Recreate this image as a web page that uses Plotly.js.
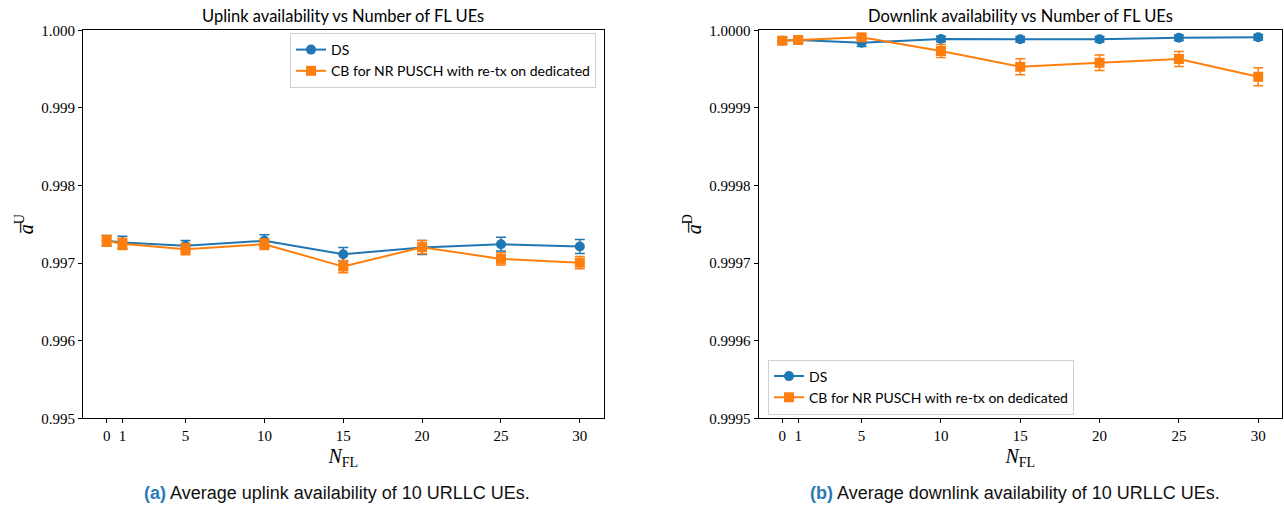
<!DOCTYPE html>
<html>
<head>
<meta charset="utf-8">
<script src="https://cdn.plot.ly/plotly-3.0.1.min.js"></script>
<style>
html,body{margin:0;padding:0;background:#fff;}
#chart{width:1284px;height:507px;}
</style>
</head>
<body>
<div id="chart"></div>
<script>
// ---- data ----
const nFL = [0, 1, 5, 10, 15, 20, 25, 30];
const xTickVals = [0, 1, 5, 10, 15, 20, 25, 30];
const xTickText = ["0", "1", "5", "10", "15", "20", "25", "30"];

const ulDS    = [0.997287, 0.997265, 0.997222, 0.997287, 0.997115, 0.997200, 0.997244, 0.997213];
const ulDSerr = [0.000070, 0.000080, 0.000070, 0.000078, 0.000085, 0.000090, 0.000088, 0.000090];
const ulCB    = [0.997287, 0.997248, 0.997180, 0.997244, 0.996955, 0.997205, 0.997054, 0.997006];
const ulCBerr = [0.000070, 0.000072, 0.000072, 0.000068, 0.000080, 0.000085, 0.000078, 0.000080];

const dlDS    = [0.9999866, 0.9999875, 0.9999840, 0.9999888, 0.9999884, 0.9999884, 0.9999905, 0.9999910];
const dlDSerr = [0.0000040, 0.0000040, 0.0000050, 0.0000035, 0.0000035, 0.0000035, 0.0000035, 0.0000035];
const dlCB    = [0.9999866, 0.9999875, 0.9999910, 0.9999733, 0.9999530, 0.9999582, 0.9999630, 0.9999401];
const dlCBerr = [0.0000040, 0.0000040, 0.0000032, 0.0000084, 0.0000103, 0.0000100, 0.0000097, 0.0000117];

const ulYTicks = [0.995, 0.996, 0.997, 0.998, 0.999, 1.000];
const dlYTicks = [0.9995, 0.9996, 0.9997, 0.9998, 0.9999, 1.0000];

const nameDS = "DS";
const nameCB = "CB for NR PUSCH with re-tx on dedicated";
const C_DS = "#1f77b4", C_CB = "#ff7f0e";

// ---- traces ----
function tr(y, err, name, color, symbol, xa, ya, leg) {
  return {
    x: nFL, y: y, name: name, type: "scatter", mode: "lines+markers",
    xaxis: xa, yaxis: ya, legend: leg,
    line: {color: color, width: 2},
    marker: {color: color, symbol: symbol, size: 10},
    error_y: {type: "data", array: err, visible: true, color: color, thickness: 1.5, width: 5},
    cliponaxis: false
  };
}
const data = [
  tr(ulDS, ulDSerr, nameDS, C_DS, "circle", "x", "y", "legend"),
  tr(ulCB, ulCBerr, nameCB, C_CB, "square", "x", "y", "legend"),
  tr(dlDS, dlDSerr, nameDS, C_DS, "circle", "x2", "y2", "legend2"),
  tr(dlCB, dlCBerr, nameCB, C_CB, "square", "x2", "y2", "legend2")
];

const serif = "Liberation Serif, Times New Roman, serif";
const sans = "Lato, DejaVu Sans, sans-serif";
const H = 507, W = 1284;

function xAxis(dom) {
  return {
    domain: dom, range: [-1.5, 31.5], tickmode: "array",
    tickvals: xTickVals, ticktext: xTickText,
    showline: true, linecolor: "#000", linewidth: 1, mirror: true,
    ticks: "outside", ticklen: 4, tickcolor: "#000", showgrid: false, zeroline: false,
    tickfont: {family: serif, size: 15, color: "#000"},
    title: {text: "<i>N</i><sub>FL</sub>", font: {family: serif, size: 20, color: "#000"}, standoff: 5}
  };
}
function yAxis(ticks, fmt, anchor, title) {
  return {
    domain: [1 - 418.3 / H, 1 - 30.3 / H], range: [ticks[0], ticks[ticks.length - 1]],
    tickmode: "array", tickvals: ticks, tickformat: fmt, anchor: anchor,
    showline: true, linecolor: "#000", linewidth: 1, mirror: true,
    ticks: "outside", ticklen: 4, tickcolor: "#000", showgrid: false, zeroline: false,
    tickfont: {family: serif, size: 15, color: "#000"},
    title: {text: title, font: {family: serif, size: 20, color: "#000"}, standoff: 2}
  };
}

const layout = {
  width: W, height: H,
  margin: {l: 0, r: 0, t: 0, b: 0},
  paper_bgcolor: "#fff", plot_bgcolor: "#fff",
  showlegend: true,
  xaxis: Object.assign(xAxis([83 / W, 603.5 / W]), {anchor: "y"}),
  yaxis: yAxis(ulYTicks, ".3f", "x", "<i>a\u0305</i><sup>U</sup>"),
  xaxis2: Object.assign(xAxis([758.5 / W, 1282 / W]), {anchor: "y2"}),
  yaxis2: yAxis(dlYTicks, ".4f", "x2", "<i>a\u0305</i><sup>D</sup>"),
  legend: {
    x: 596 / W, xanchor: "right", y: 1 - 33 / H, yanchor: "top",
    bgcolor: "#fff", bordercolor: "#d0d0d0", borderwidth: 1,
    font: {family: sans, size: 14, color: "#000"}, tracegroupgap: 0
  },
  legend2: {
    x: 768 / W, xanchor: "left", y: 1 - 414.5 / H, yanchor: "bottom",
    bgcolor: "#fff", bordercolor: "#d0d0d0", borderwidth: 1,
    font: {family: sans, size: 14, color: "#000"}, tracegroupgap: 0
  },
  annotations: [
    {text: "Uplink availability vs Number of FL UEs", xref: "paper", yref: "paper",
     x: 343.25 / W, y: 1 - 16 / H, xanchor: "center", yanchor: "middle", showarrow: false,
     font: {family: sans, size: 16.5, color: "#000"}},
    {text: "Downlink availability vs Number of FL UEs", xref: "paper", yref: "paper",
     x: 1020.25 / W, y: 1 - 16 / H, xanchor: "center", yanchor: "middle", showarrow: false,
     font: {family: sans, size: 16.5, color: "#000"}},
    {text: "<b><span style='color:#2a7ab5'>(a)</span></b> Average uplink availability of 10 URLLC UEs.",
     xref: "paper", yref: "paper", x: 337 / W, y: 1 - 493 / H, xanchor: "center", yanchor: "middle",
     showarrow: false, font: {family: "Liberation Sans, Arial, sans-serif", size: 18, color: "#111"}},
    {text: "<b><span style='color:#2a7ab5'>(b)</span></b> Average downlink availability of 10 URLLC UEs.",
     xref: "paper", yref: "paper", x: 1015 / W, y: 1 - 493 / H, xanchor: "center", yanchor: "middle",
     showarrow: false, font: {family: "Liberation Sans, Arial, sans-serif", size: 18, color: "#111"}}
  ]
};

Plotly.newPlot("chart", data, layout, {displayModeBar: false, staticPlot: true});
</script>
</body>
</html>
